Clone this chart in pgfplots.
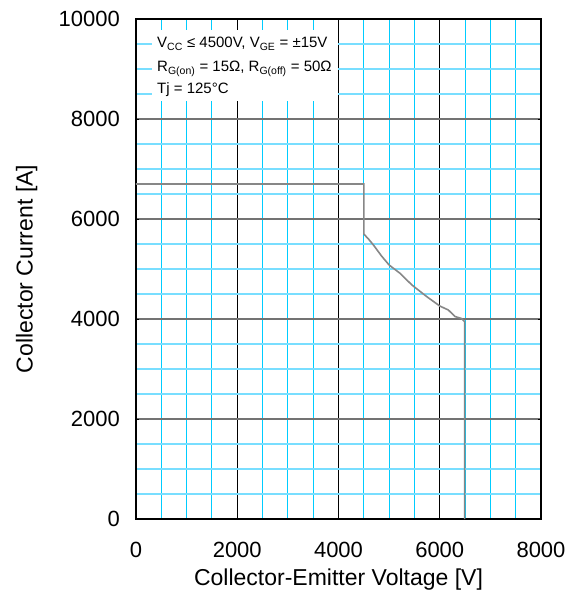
\documentclass[border=0pt]{standalone}
\usepackage{pgfplots}
\pgfplotsset{compat=1.18}
\usepackage{fontspec}
\setmainfont{Liberation Sans}
\definecolor{gridcyan}{RGB}{0,204,255}
\definecolor{gridcyanlight}{RGB}{120,222,255}
\definecolor{curvegray}{RGB}{135,135,135}
\pgfplotstableread{
x y
0 6700
4500 6700
4500 5700
4600 5590
4690 5480
4850 5260
5000 5080
5220 4910
5450 4680
5740 4450
6000 4260
6170 4180
6300 4050
6430 4010
6490 3950
6490 0
}\soa
\begin{document}
\begin{tikzpicture}
\begin{axis}[name=ax, scale only axis, width=405pt, height=500pt,
 xmin=0, xmax=8000, ymin=0, ymax=10000,
 xtick={0,2000,...,8000}, ytick={0,2000,...,10000},
 minor tick num=3,
 grid=both,
 major x grid style={black, line width=0.7pt},
 major y grid style={black!55, line width=1.2pt},
 minor x grid style={gridcyan, line width=0.9pt},
 minor y grid style={gridcyanlight, line width=1.3pt},
 minor tick length=0pt, major tick length=3pt,
 tick style={black, line width=0.9pt},
 axis line style={black, line width=1.5pt},
 scaled ticks=false,
 /pgf/number format/assume math mode=true,
 /pgf/number format/1000 sep={},
 tick label style={font=\fontsize{22}{26}\selectfont},
 xticklabel style={anchor=center, yshift=-31pt},
 yticklabel style={anchor=east, inner sep=0pt, xshift=-16pt},
 label style={font=\fontsize{23}{28}\selectfont},
 xlabel={Collector-Emitter Voltage [V]},
 ylabel={Collector Current [A]},
 xlabel style={at={(axis description cs:0.5,-0.122)}, anchor=center},
 ylabel style={at={(axis description cs:-0.27,0.5)}, anchor=center},
]
\fill[white] (axis cs:316,8360) rectangle (axis cs:3990,9780);
\node[anchor=west, inner sep=0pt, font=\fontsize{15}{18}\selectfont] at (axis cs:415,9500) {V\textsubscript{CC} ≤ 4500V, V\textsubscript{GE} = ±15V};
\node[anchor=west, inner sep=0pt, font=\fontsize{15}{18}\selectfont] at (axis cs:415,9000) {R\textsubscript{G(on)} = 15Ω, R\textsubscript{G(off)} = 50Ω};
\node[anchor=west, inner sep=0pt, font=\fontsize{15}{18}\selectfont] at (axis cs:415,8580) {Tj = 125°C};
\addplot[curvegray, line width=1.6pt, no marks] table {\soa};
\end{axis}
\pgfresetboundingbox
\path[use as bounding box] ([shift={(-136pt,-93pt)}]ax.south west) rectangle ([shift={(33pt,19pt)}]ax.north east);
\end{tikzpicture}
\end{document}
